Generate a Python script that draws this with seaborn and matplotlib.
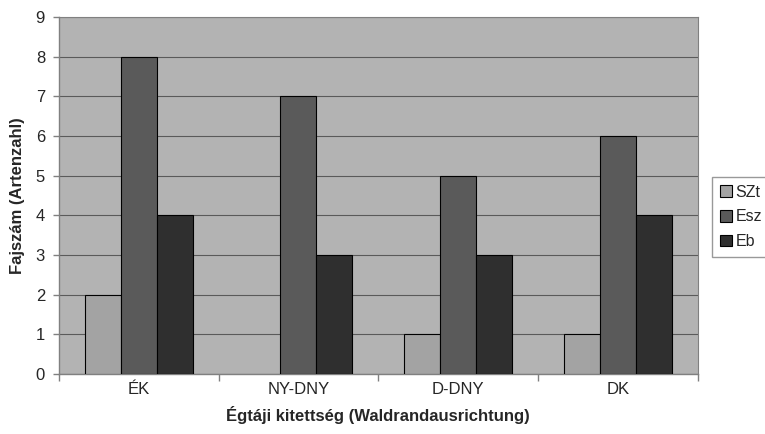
import matplotlib
matplotlib.use('Agg')
import matplotlib.pyplot as plt
import seaborn as sns
import pandas as pd

# data
categories = ['ÉK', 'NY-DNY', 'D-DNY', 'DK']
series = ['SZt', 'Esz', 'Eb']
szt = [2, 0, 1, 1]
esz = [8, 7, 5, 6]
eb = [4, 3, 3, 4]

df = pd.DataFrame({
    'cat': categories * 3,
    'series': [s for s in series for _ in categories],
    'val': szt + esz + eb,
})

sns.set_theme(style='white')
plt.rcParams['font.family'] = ['Liberation Sans', 'DejaVu Sans']

fig = plt.figure(figsize=(7.65, 4.34), dpi=100)
ax = fig.add_axes([0.077, 0.138, 0.835, 0.823])
ax.set_facecolor('#b3b3b3')

palette = {'SZt': '#a3a3a3', 'Esz': '#5a5a5a', 'Eb': '#2f2f2f'}
sns.barplot(data=df, x='cat', y='val', hue='series', palette=palette,
            width=0.675, edgecolor='black', linewidth=0.8, saturation=1,
            ax=ax, zorder=3, legend=False)

# no outline on empty bars
for bar in ax.patches:
    if bar.get_height() == 0:
        bar.set_linewidth(0)

ax.set_ylim(0, 9)
ax.set_xlim(-0.5, 3.5)
ax.set_yticks(range(10))
ax.yaxis.grid(True, color='#5a5a5a', linewidth=0.8, zorder=0)
ax.set_axisbelow(True)

# category separators as tick marks
ax.set_xticks([0, 1, 2, 3])
ax.set_xticklabels(categories, fontsize=12)
ax.set_xticks([-0.5, 0.5, 1.5, 2.5, 3.5], minor=True)
ax.tick_params(axis='x', which='major', length=0, pad=6)
ax.tick_params(axis='x', which='minor', length=5, color='#808080', width=1, direction='out', bottom=True)
ax.tick_params(axis='y', length=4, color='#808080', width=1, direction='out', left=True, labelsize=12, pad=6)

for side in ['left', 'bottom']:
    ax.spines[side].set_color('#808080')
    ax.spines[side].set_linewidth(1)
for side in ['top', 'right']:
    ax.spines[side].set_color('#808080')
    ax.spines[side].set_linewidth(0.8)

ax.set_xlabel('Égtáji kitettség (Waldrandausrichtung)', fontsize=12, fontweight='bold', labelpad=6)
ax.set_ylabel('Fajszám (Artenzahl)', fontsize=12, fontweight='bold', labelpad=8)

handles = [plt.Rectangle((0, 0), 1, 1, facecolor=palette[s], edgecolor='black', linewidth=0.8)
           for s in series]
ax.legend(handles, series, loc='center left', bbox_to_anchor=(1.022, 0.44), frameon=True,
          fancybox=False, edgecolor='#808080', fontsize=11.5, handlelength=0.75,
          handleheight=0.75, handletextpad=0.25, borderpad=0.5, borderaxespad=0,
          labelspacing=0.6)

fig.savefig('out.png', dpi=100)
